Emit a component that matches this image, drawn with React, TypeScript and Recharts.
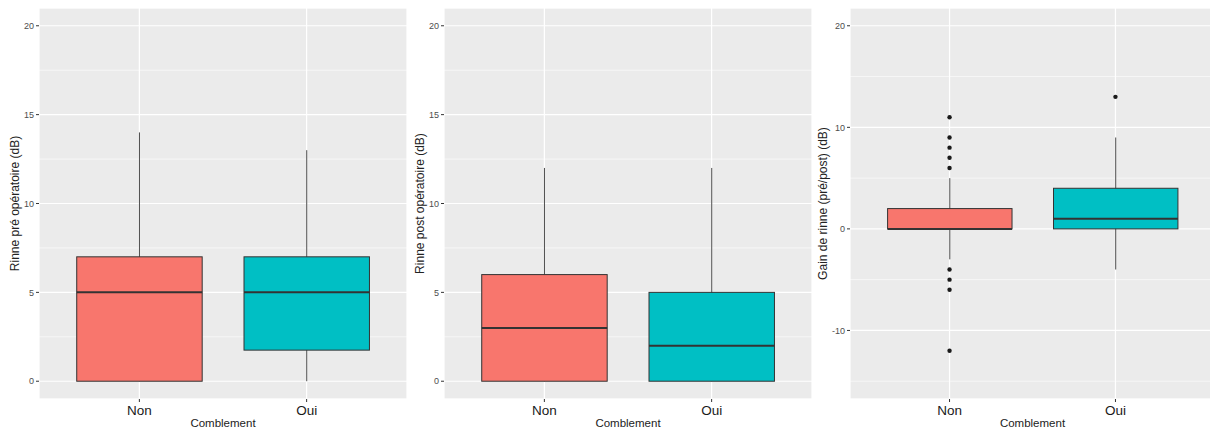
import { Bar, CartesianGrid, ComposedChart, Label, Scatter, XAxis, YAxis } from 'recharts';

const categories = ['Non', 'Oui'];
const fills = ['#F8766D', '#00BFC4'];

// Rinne pré opératoire
const preMin = [0, 0];
const preQ1 = [0, 1.75];
const preMed = [5, 5];
const preQ3 = [7, 7];
const preMax = [14, 13];

// Rinne post opératoire
const postMin = [0, 0];
const postQ1 = [0, 0];
const postMed = [3, 2];
const postQ3 = [6, 5];
const postMax = [12, 12];

// Gain de rinne
const gainMin = [-3, -4];
const gainQ1 = [0, 0];
const gainMed = [0, 1];
const gainQ3 = [2, 4];
const gainMax = [5, 9];
const gainOutNon = [11, 9, 8, 7, 6, -4, -5, -6, -12];
const gainOutOui = [13];

const rinneTicks = [0, 5, 10, 15, 20];
const rinneMinor = [2.5, 7.5, 12.5, 17.5];
const gainTicks = [-10, 0, 10, 20];
const gainMinor = [-15, -5, 5, 15];

const FONT = '"Liberation Sans", Arial, sans-serif';
const H = 429;
const AXIS_W = 30;

type PanelProps = {
  title: string;
  mins: number[];
  q1s: number[];
  meds: number[];
  q3s: number[];
  maxs: number[];
  outliers: number[][];
  domain: [number, number];
  ticks: number[];
  minor: number[];
  left: number;
  width: number;
  marginLeft: number;
  labelOffset: number;
};

const Whisker = (p: any) => {
  const top = Math.min(p.y, p.y + p.height);
  const h = Math.abs(p.height);
  const cx = p.x + p.width / 2;
  return <line x1={cx} x2={cx} y1={top} y2={top + h} stroke="#4d4d4d" strokeWidth={1} />;
};

const Box = (p: any) => {
  const top = Math.min(p.y, p.y + p.height);
  const h = Math.abs(p.height);
  return (
    <rect x={p.x} y={top} width={p.width} height={h} fill={fills[p.index]} stroke="#333333" strokeWidth={1} />
  );
};

const Median = (p: any) => (
  <line x1={p.x} x2={p.x + p.width} y1={p.y} y2={p.y} stroke="#333333" strokeWidth={2} />
);

const Dot = (p: any) => <circle cx={p.cx} cy={p.cy} r={2.2} fill="#1a1a1a" />;

const Panel = (props: PanelProps) => {
  const { title, mins, q1s, meds, q3s, maxs, outliers, domain, ticks, minor, left, width, marginLeft, labelOffset } = props;
  const rows = categories.map((name, i) => ({
    x: i + 1,
    name,
    whisker: [mins[i], maxs[i]],
    box: [q1s[i], q3s[i]],
    median: [meds[i], meds[i]],
  }));
  const points = outliers.flatMap((vals, i) => vals.map(v => ({ x: i + 1, y: v })));
  const plotW = width - marginLeft - AXIS_W;
  const boxSize = (0.75 * plotW) / 2.2;

  return (
    <div style={{ position: 'absolute', left, top: 0 }}>
      <ComposedChart
        width={width}
        height={H}
        data={rows}
        margin={{ top: 8, right: 0, bottom: 0, left: marginLeft }}
        barGap={-boxSize}
        style={{ fontFamily: FONT }}
      >
        <CartesianGrid yAxisId="minor" fill="#EBEBEB" vertical={false} stroke="#FFFFFF" strokeWidth={0.6} />
        <CartesianGrid stroke="#FFFFFF" strokeWidth={1.2} />
        <XAxis
          dataKey="x"
          type="number"
          domain={[0.4, 2.6]}
          ticks={[1, 2]}
          tickFormatter={(v: number) => categories[v - 1]}
          axisLine={false}
          tickLine={{ stroke: '#333333' }}
          tickSize={3}
          tickMargin={3}
          height={30}
          tick={{ fontSize: 13.5, fill: '#1a1a1a' }}
          allowDataOverflow
        >
          <Label value="Comblement" position="insideBottom" offset={2} style={{ fontSize: 11.5, fill: '#222222' }} />
        </XAxis>
        <YAxis
          domain={domain}
          ticks={ticks}
          width={AXIS_W}
          axisLine={false}
          tickLine={{ stroke: '#333333' }}
          tickSize={3}
          tickMargin={2}
          tick={{ fontSize: 9, fill: '#4d4d4d' }}
          allowDataOverflow
        >
          <Label
            value={title}
            angle={-90}
            position="insideLeft"
            offset={labelOffset}
            style={{ fontSize: 12, fill: '#222222', textAnchor: 'middle' }}
          />
        </YAxis>
        <YAxis yAxisId="minor" domain={domain} ticks={minor} hide allowDataOverflow />
        <Bar dataKey="whisker" barSize={boxSize} shape={Whisker} isAnimationActive={false} />
        <Bar dataKey="box" barSize={boxSize} shape={Box} isAnimationActive={false} />
        <Bar dataKey="median" barSize={boxSize} shape={Median} isAnimationActive={false} />
        <Scatter data={points} dataKey="y" shape={Dot} isAnimationActive={false} />
      </ComposedChart>
    </div>
  );
};

export default function App() {
  return (
    <div
      style={{
        position: 'absolute',
        left: 0,
        top: 0,
        width: 1210,
        height: H,
        overflow: 'hidden',
        background: '#FFFFFF',
      }}
    >
      <Panel
        title="Rinne pré opératoire (dB)"
        mins={preMin}
        q1s={preQ1}
        meds={preMed}
        q3s={preQ3}
        maxs={preMax}
        outliers={[[], []]}
        domain={[-1, 21]}
        ticks={rinneTicks}
        minor={rinneMinor}
        left={0}
        width={407}
        marginLeft={9}
        labelOffset={6}
      />
      <Panel
        title="Rinne post opératoire (dB)"
        mins={postMin}
        q1s={postQ1}
        meds={postMed}
        q3s={postQ3}
        maxs={postMax}
        outliers={[[], []]}
        domain={[-1, 21]}
        ticks={rinneTicks}
        minor={rinneMinor}
        left={407}
        width={405}
        marginLeft={7}
        labelOffset={6}
      />
      <Panel
        title="Gain de rinne (pré/post) (dB)"
        mins={gainMin}
        q1s={gainQ1}
        meds={gainMed}
        q3s={gainQ3}
        maxs={gainMax}
        outliers={[gainOutNon, gainOutOui]}
        domain={[-16.75, 21.75]}
        ticks={gainTicks}
        minor={gainMinor}
        left={811}
        width={404}
        marginLeft={9}
        labelOffset={3}
      />
    </div>
  );
}
